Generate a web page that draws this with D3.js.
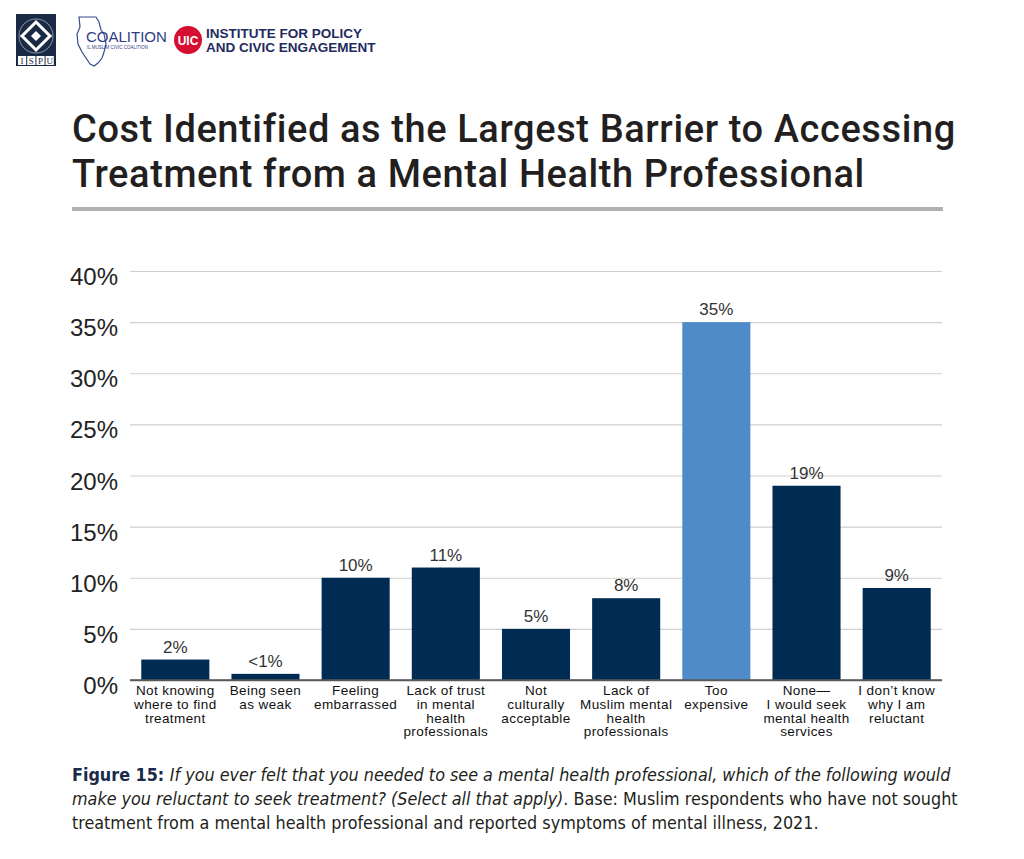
<!DOCTYPE html>
<html>
<head>
<meta charset="utf-8">
<script src="https://cdn.jsdelivr.net/npm/d3@7/dist/d3.min.js"></script>
<style>
  html, body { margin: 0; padding: 0; background: #fff; }
  svg { display: block; }
</style>
</head>
<body>
<div id="chart"></div>
<script>
/** Chart data */
const categories = [
  ["Not knowing", "where to find", "treatment"],
  ["Being seen", "as weak"],
  ["Feeling", "embarrassed"],
  ["Lack of trust", "in mental", "health", "professionals"],
  ["Not", "culturally", "acceptable"],
  ["Lack of", "Muslim mental", "health", "professionals"],
  ["Too", "expensive"],
  ["None\u2014", "I would seek", "mental health", "services"],
  ["I don\u2019t know", "why I am", "reluctant"]
];
const values = [2, 0.6, 10, 11, 5, 8, 35, 19, 9];
const valueLabels = ["2%", "<1%", "10%", "11%", "5%", "8%", "35%", "19%", "9%"];
const highlighted = [false, false, false, false, false, false, true, false, false];
const yTicks = [0, 5, 10, 15, 20, 25, 30, 35, 40];

const titleLines = [
  "Cost Identified as the Largest Barrier to Accessing",
  "Treatment from a Mental Health Professional"
];

/** Graph configs */
const width = 1024;
const height = 859;
const plot = { left: 130, right: 942, top: 271, bottom: 680 };
const navy = "#002c54";
const lightBlue = "#4f8bc9";

const svg = d3
  .select("#chart")
  .append("svg")
  .attr("width", width)
  .attr("height", height);

/** Logos (simplified) */
const logos = svg.append("g");
logos.append("rect")
  .attr("x", 16).attr("y", 14).attr("width", 40).attr("height", 52)
  .attr("fill", "#1b2a44");
logos.append("path")
  .attr("d", "M36,22 L50,36 L36,50 L22,36 Z")
  .attr("fill", "none").attr("stroke", "#fff").attr("stroke-width", 3);
logos.append("path")
  .attr("d", "M36,31 L41,36 L36,41 L31,36 Z")
  .attr("fill", "#fff");
logos.append("circle")
  .attr("cx", 36).attr("cy", 36).attr("r", 17)
  .attr("fill", "none").attr("stroke", "#8a96aa").attr("stroke-width", 1);
logos.selectAll("rect.ispu")
  .data(["I", "S", "P", "U"])
  .enter()
  .append("rect")
  .attr("class", "ispu")
  .attr("x", (_, i) => 18 + i * 9.2).attr("y", 56)
  .attr("width", 8.2).attr("height", 9)
  .attr("fill", "#fff");
logos.selectAll("text.ispu")
  .data(["I", "S", "P", "U"])
  .enter()
  .append("text")
  .attr("class", "ispu")
  .attr("x", (_, i) => 22.1 + i * 9.2).attr("y", 64)
  .attr("text-anchor", "middle")
  .style("font-family", "'Liberation Serif', serif")
  .style("font-size", "9px")
  .attr("fill", "#1b2a44")
  .text((d) => d);

logos.append("path")
  .attr("d", "M79,17 L96,17 L99,22 L101,30 L104,34 L106,44 L104,52 L102,58 L98,63 L94,66 L90,64 L86,58 L82,52 L78,44 L77,34 L80,27 Z")
  .attr("fill", "none").attr("stroke", "#3a4a8a").attr("stroke-width", 1.2);
logos.append("text")
  .attr("x", 86).attr("y", 42)
  .style("font-family", "'Liberation Sans', Arial, sans-serif")
  .style("font-size", "15px")
  .attr("fill", "#2f3c86")
  .text("COALITION");
logos.append("text")
  .attr("x", 87).attr("y", 48.5)
  .style("font-family", "'Liberation Sans', Arial, sans-serif")
  .style("font-size", "4.5px")
  .attr("fill", "#2f3c86")
  .text("IL MUSLIM CIVIC COALITION");

logos.append("circle")
  .attr("cx", 188).attr("cy", 40).attr("r", 14)
  .attr("fill", "#d50f30");
logos.append("text")
  .attr("x", 188).attr("y", 44.5)
  .attr("text-anchor", "middle")
  .style("font-family", "'Liberation Sans', Arial, sans-serif")
  .style("font-size", "12px")
  .style("font-weight", "bold")
  .attr("fill", "#fff")
  .text("UIC");
["INSTITUTE FOR POLICY", "AND CIVIC ENGAGEMENT"].forEach((t, i) => {
  logos.append("text")
    .attr("x", 206).attr("y", 38 + i * 14)
    .style("font-family", "'Liberation Sans', Arial, sans-serif")
    .style("font-size", "13.5px")
    .style("font-weight", "bold")
    .attr("fill", "#1f2a5e")
    .text(t);
});

/** Title */
svg.selectAll("text.title")
  .data(titleLines)
  .enter()
  .append("text")
  .attr("class", "title")
  .attr("x", 72)
  .attr("y", (_, i) => 142 + i * 44.5)
  .style("font-family", "Roboto, 'Liberation Sans', sans-serif")
  .style("font-size", "38px")
  .style("letter-spacing", "0.6px")
  .style("font-weight", 500)
  .attr("fill", "#231f20")
  .text((d) => d);

svg.append("line")
  .attr("x1", 72).attr("x2", 943)
  .attr("y1", 209).attr("y2", 209)
  .attr("stroke", "#b1b1b1")
  .attr("stroke-width", 4);

/** Scales */
const x = d3
  .scaleBand()
  .domain(d3.range(categories.length))
  .range([plot.left, plot.right])
  .paddingInner(0.245)
  .paddingOuter(0.125);

const y = d3
  .scaleLinear()
  .domain([0, 40])
  .range([plot.bottom, plot.top]);

/** Grid and y labels */
const yAxis = svg.append("g")
  .attr("transform", `translate(${plot.left},0)`)
  .call(
    d3.axisLeft(y)
      .tickValues(yTicks)
      .tickSize(-(plot.right - plot.left))
      .tickPadding(12)
      .tickFormat((d) => d + "%")
  );
yAxis.select(".domain").remove();
yAxis.selectAll(".tick line")
  .attr("stroke", (d) => (d === 0 ? "#595959" : "#cfcfcf"))
  .attr("stroke-width", (d) => (d === 0 ? 1.5 : 1.2));
yAxis.selectAll(".tick text")
  .attr("dy", "0.9em")
  .attr("y", -8)
  .style("font-family", "'Liberation Sans', Arial, sans-serif")
  .style("font-size", "24px")
  .attr("fill", "#222");

/** Bars */
const bars = svg.append("g")
  .selectAll("g.bar")
  .data(values)
  .enter()
  .append("g")
  .attr("class", "bar");

bars.append("rect")
  .attr("x", (_, i) => x(i))
  .attr("y", (d) => y(d))
  .attr("width", x.bandwidth())
  .attr("height", (d) => y(0) - y(d))
  .attr("fill", (_, i) => (highlighted[i] ? lightBlue : navy));

bars.append("text")
  .attr("x", (_, i) => x(i) + x.bandwidth() / 2)
  .attr("y", (d) => y(d) - 7)
  .attr("text-anchor", "middle")
  .style("font-family", "'Liberation Sans', Arial, sans-serif")
  .style("font-size", "17px")
  .attr("fill", "#333")
  .text((_, i) => valueLabels[i]);

/** Redraw zero line on top of bars */
svg.append("line")
  .attr("x1", plot.left).attr("x2", plot.right)
  .attr("y1", y(0)).attr("y2", y(0))
  .attr("stroke", "#595959")
  .attr("stroke-width", 1.5);

/** Category labels */
const catLabels = svg.append("g")
  .selectAll("text")
  .data(categories)
  .enter()
  .append("text")
  .attr("text-anchor", "middle")
  .attr("x", (_, i) => x(i) + x.bandwidth() / 2)
  .attr("y", 695)
  .style("font-family", "'Liberation Sans', Arial, sans-serif")
  .style("font-size", "13.5px")
  .style("letter-spacing", "0.4px")
  .attr("fill", "#111");

catLabels.selectAll("tspan")
  .data((d) => d)
  .enter()
  .append("tspan")
  .attr("x", function () { return d3.select(this.parentNode).attr("x"); })
  .attr("dy", (_, i) => (i === 0 ? 0 : 13.8))
  .text((d) => d);

/** Caption */
const caption = svg.append("text")
  .attr("x", 72)
  .attr("y", 781)
  .style("font-family", "'Liberation Sans Narrow', 'DejaVu Sans Condensed', sans-serif")
  .style("font-stretch", "condensed")
  .style("font-size", "17.8px")
  .attr("fill", "#231f20");

const capLines = [
  [
    { t: "Figure 15: ", w: 600 },
    { t: "If you ever felt that you needed to see a mental health professional, which of the following would", s: "italic" }
  ],
  [
    { t: "make you reluctant to seek treatment? (Select all that apply)", s: "italic" },
    { t: ". Base: Muslim respondents who have not sought" }
  ],
  [
    { t: "treatment from a mental health professional and reported symptoms of mental illness, 2021." }
  ]
];

capLines.forEach((line, li) => {
  line.forEach((seg, si) => {
    const ts = caption.append("tspan").text(seg.t);
    if (si === 0) ts.attr("x", 72).attr("dy", li === 0 ? 0 : 24);
    if (seg.s) ts.style("font-style", seg.s);
    if (seg.w) ts.style("font-weight", seg.w).attr("fill", "#1a2a4a");
  });
});
</script>
</body>
</html>
